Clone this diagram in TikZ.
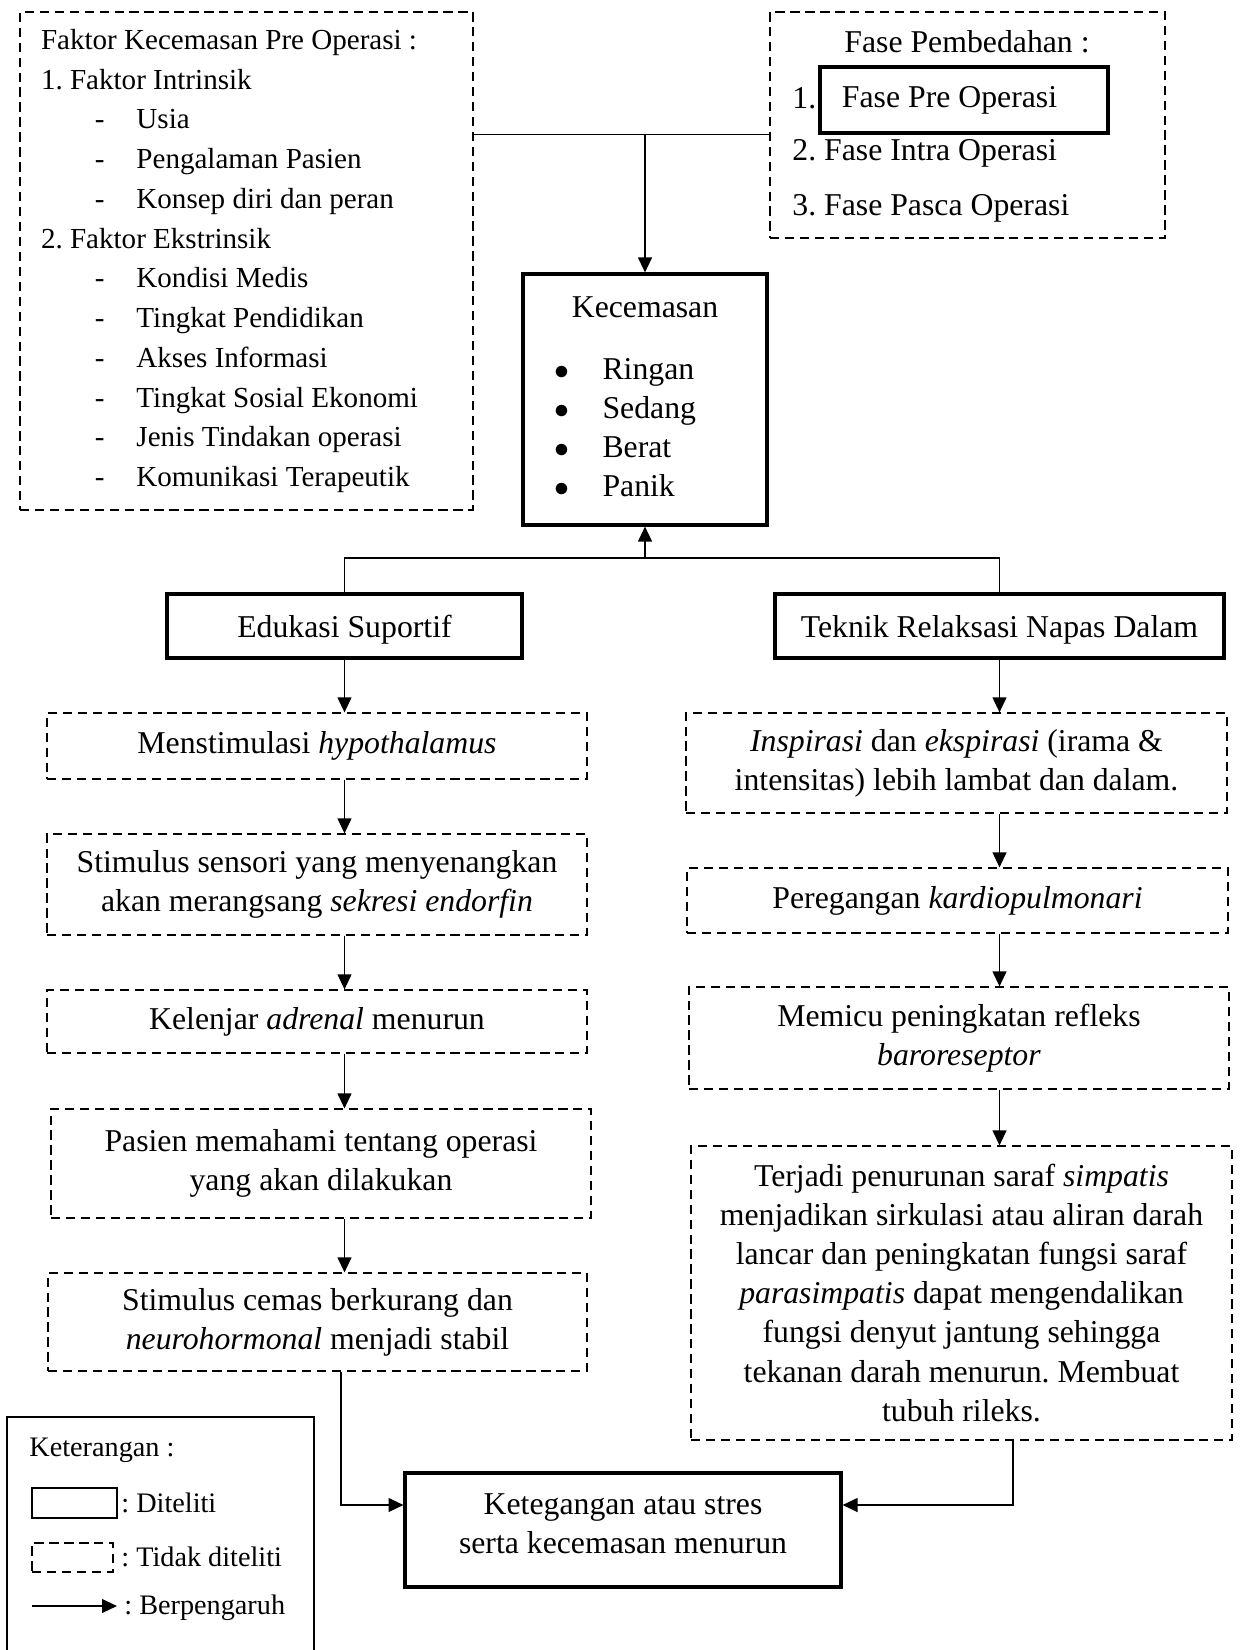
\documentclass[tikz,border=0pt]{standalone}
\usepackage{fontspec}
\setmainfont{Liberation Serif}
\usetikzlibrary{arrows.meta,positioning}

\def\pxu{0.4818pt}
\newcommand{\dashitem}[1]{\makebox[46pt][l]{\hspace*{26pt}-}#1}
\frenchspacing

\begin{document}
\begin{tikzpicture}[x=0.4818pt, y=-0.4818pt,
  >={Triangle[length=7.2pt,width=6.7pt]},
  every node/.style={font=\fontsize{15.3}{18.8}\selectfont},
  diteliti/.style={draw, line width=1.5pt, inner sep=0pt, align=center},
  tdk/.style={draw, line width=0.6pt, dash pattern=on 4.5pt off 2.7pt, inner sep=0pt, align=center},
  kecil/.style={anchor=mid west, inner sep=0pt, font=\fontsize{13.6}{16}\selectfont},
  panah/.style={->, line width=0.6pt},
  garis/.style={line width=0.6pt}]

  \useasboundingbox (0,0) rectangle (1240,1650);

  % faktor kecemasan
  \node[tdk, minimum width=453*\pxu, minimum height=498*\pxu, text width=198pt, align=flush left,
    font=\fontsize{14}{19.15}\selectfont] (faktor) at (246.5,261) {Faktor Kecemasan Pre Operasi :\\
    1. Faktor Intrinsik\\
    \dashitem{Usia}\\
    \dashitem{Pengalaman Pasien}\\
    \dashitem{Konsep diri dan peran}\\
    2. Faktor Ekstrinsik\\
    \dashitem{Kondisi Medis}\\
    \dashitem{Tingkat Pendidikan}\\
    \dashitem{Akses Informasi}\\
    \dashitem{Tingkat Sosial Ekonomi}\\
    \dashitem{Jenis Tindakan operasi}\\
    \dashitem{Komunikasi Terapeutik}};

  % fase pembedahan
  \node[tdk, minimum width=395*\pxu, minimum height=226*\pxu] (fase) at (967.5,125) {};
  \node (fasejudul) at (967,42) {Fase Pembedahan :};
  \node[anchor=mid west, inner sep=0pt] (no1) at (792,104) {1.};
  \node[diteliti, minimum width=288*\pxu, minimum height=66*\pxu, text width=117.6pt, align=flush left] (preop) at (964,100) {Fase Pre Operasi};
  \node[anchor=mid west, inner sep=0pt] (intra) at (792,156) {2. Fase Intra Operasi};
  \node[anchor=mid west, inner sep=0pt] (pasca) at (792,211) {3. Fase Pasca Operasi};

  % kecemasan
  \node[diteliti, minimum width=244*\pxu, minimum height=251*\pxu] (kec) at (645,399.5) {%
    \begin{tabular}{@{}l@{\hspace{15.9pt}}l@{\hspace{19pt}}}
      \multicolumn{2}{@{}c@{}}{Kecemasan}\\[11pt]
      $\bullet$ & Ringan\\
      $\bullet$ & Sedang\\
      $\bullet$ & Berat\\
      $\bullet$ & Panik
    \end{tabular}};

  % intervensi
  \node[diteliti, text depth=0pt, minimum width=355*\pxu, minimum height=64*\pxu] (edu) at (344.5,626) {Edukasi Suportif};
  \node[diteliti, text depth=0pt, minimum width=449*\pxu, minimum height=64*\pxu] (tek) at (999.5,626) {Teknik Relaksasi Napas Dalam};

  % jalur edukasi
  \node[tdk, minimum width=540*\pxu, minimum height=66*\pxu] (hipo) at (317,746) {Menstimulasi \textit{hypothalamus}};
  \node[tdk, minimum width=540*\pxu, minimum height=101*\pxu] (endor) at (317,884.5) {Stimulus sensori yang menyenangkan\\akan merangsang \textit{sekresi endorfin}};
  \node[tdk, minimum width=540*\pxu, minimum height=63*\pxu] (adrenal) at (317,1021.5) {Kelenjar \textit{adrenal} menurun};
  \node[tdk, minimum width=540*\pxu, minimum height=109*\pxu] (paham) at (321,1163.5) {Pasien memahami tentang operasi\\yang akan dilakukan};
  \node[tdk, minimum width=539*\pxu, minimum height=98*\pxu] (stabil) at (317.5,1322) {Stimulus cemas berkurang dan\\\textit{neurohormonal} menjadi stabil};

  % jalur relaksasi
  \node[tdk, minimum width=541*\pxu, minimum height=100*\pxu] (napas) at (956.5,763) {\textit{Inspirasi} dan \textit{ekspirasi} (irama \&\\intensitas) lebih lambat dan dalam.};
  \node[tdk, minimum width=541*\pxu, minimum height=65*\pxu] (kardio) at (957.5,900.5) {Peregangan \textit{kardiopulmonari}};
  \node[tdk, minimum width=540*\pxu, minimum height=102*\pxu] (baro) at (959,1038) {Memicu peningkatan refleks\\\textit{baroreseptor}};
  \node[tdk, minimum width=541*\pxu, minimum height=294*\pxu] (saraf) at (961.5,1293) {Terjadi penurunan saraf \textit{simpatis}\\
    menjadikan sirkulasi atau aliran darah\\
    lancar dan peningkatan fungsi saraf\\
    \textit{parasimpatis} dapat mengendalikan\\
    fungsi denyut jantung sehingga\\
    tekanan darah menurun. Membuat\\
    tubuh rileks.};

  % hasil
  \node[diteliti, minimum width=436*\pxu, minimum height=114*\pxu] (hasil) at (623,1530) {Ketegangan atau stres\\serta kecemasan menurun\rule[-6pt]{0pt}{0pt}};

  % garis penghubung
  \coordinate (atas) at (kec.north |- preop.south);
  \draw[garis] (faktor.east |- atas) -- (fase.west |- atas);
  \draw[panah] (atas) -- (kec.north);
  \coordinate (bawah) at (645,558);
  \draw[garis] (edu.north) |- (bawah) -| (tek.north);
  \draw[panah] (bawah) -- (kec.south);

  \draw[panah] (edu.south) -- (edu.south |- hipo.north);
  \foreach \a/\b in {hipo/endor, endor/adrenal, adrenal/paham, paham/stabil}
    \draw[panah] (\a.south -| edu.south) -- (\b.north -| edu.south);

  \draw[panah] (tek.south) -- (tek.south |- napas.north);
  \foreach \a/\b in {napas/kardio, kardio/baro, baro/saraf}
    \draw[panah] (\a.south -| tek.south) -- (\b.north -| tek.south);

  \coordinate (kiri) at (341,1505);
  \coordinate (kanan) at (1013,1505);
  \draw[panah] (stabil.south -| kiri) -- (kiri) -- (hasil.west |- kiri);
  \draw[panah] (saraf.south -| kanan) -- (kanan) -- (hasil.east |- kanan);

  % keterangan
  \draw[garis] (7,1660) -- (7,1417) -- (314,1417) -- (314,1660);
  \node[kecil] (ket) at (29,1452) {Keterangan :};
  \node[diteliti, line width=1.2pt, minimum width=85*\pxu, minimum height=30*\pxu] (ketsolid) at (74.5,1503) {};
  \node[kecil] (ketsolidlbl) at (121,1508) {: Diteliti};
  \node[tdk, minimum width=81*\pxu, minimum height=29*\pxu] (ketdash) at (72.5,1557.5) {};
  \node[kecil] (ketdashlbl) at (121,1562) {: Tidak diteliti};
  \coordinate (ketawal) at (32,1606);
  \node[kecil] (ketpanah) at (124,1610) {: Berpengaruh};
  \draw[panah, shorten >=3.4pt] (ketawal) -- (ketawal -| ketpanah.west);
\end{tikzpicture}
\end{document}
